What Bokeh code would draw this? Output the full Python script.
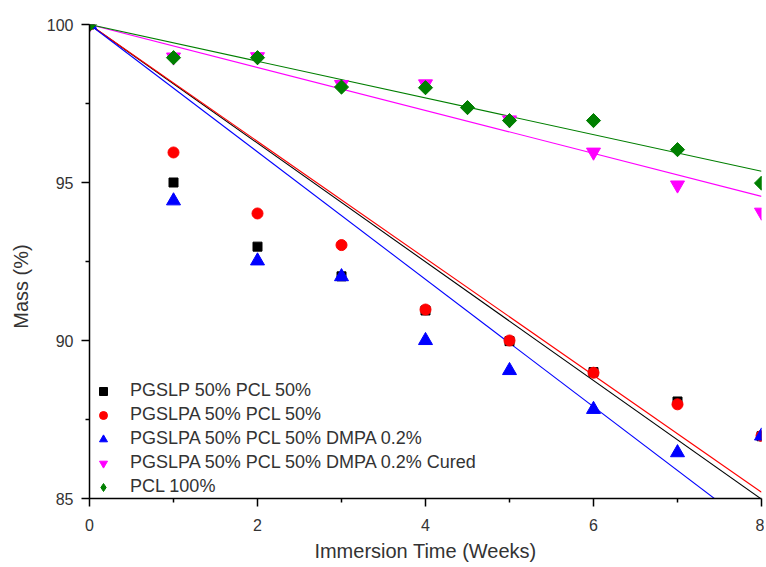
import numpy as np
from bokeh.plotting import figure
from bokeh.models import FixedTicker, Legend, LegendItem
from bokeh.embed import file_html
from bokeh.resources import INLINE

# ---- data ----
weeks = [0, 1, 2, 3, 4, 5, 6, 7, 8]
pgslp = [100, 95.0, 92.97, 92.03, 90.95, 89.98, 89.0, 88.07, 86.97]
pgslpa = [100, 95.95, 94.02, 93.02, 90.98, 90.0, 88.98, 87.98, 86.98]
pgslpa_dmpa = [100, 94.42, 92.52, 92.02, 90.0, 89.05, 87.82, 86.45, 86.98]
pgslpa_dmpa_cured = [100, 98.97, 98.98, 98.1, 98.12, 96.98, 95.96, 94.92, 94.06]
pcl_weeks = [0, 1, 2, 3, 4, 4.5, 5, 6, 7, 8]
pcl = [100, 98.95, 98.95, 98.02, 98.0, 97.37, 96.96, 96.96, 96.04, 94.98]

labels = ["PGSLP 50% PCL 50%", "PGSLPA 50% PCL 50%", "PGSLPA 50% PCL 50% DMPA 0.2%",
          "PGSLPA 50% PCL 50% DMPA 0.2% Cured", "PCL 100%"]
colors = ["#000000", "#FF0000", "#0000FF", "#FF00FF", "#007F00"]

x_ticks = [0, 2, 4, 6, 8]
x_minor = [1, 3, 5, 7]
y_ticks = [85, 90, 95, 100]
y_minor = [87.5, 92.5, 97.5]

FONT = "Liberation Sans"
TXT = "#333333"

p = figure(frame_width=672, frame_height=474, x_range=(0, 8), y_range=(85, 100),
           output_backend="svg", toolbar_location=None,
           min_border_left=89, min_border_right=3, min_border_top=24, min_border_bottom=68)
p.outline_line_color = None
p.grid.visible = False
p.background_fill_color = "white"
p.border_fill_color = "white"

series = [
    (weeks, pgslp, "square", 9, 0),
    (weeks, pgslpa, "circle", 11, 0),
    (weeks, pgslpa_dmpa, "triangle", 14, 0),
    (weeks, pgslpa_dmpa_cured, "inverted_triangle", 14, 0),
    (pcl_weeks, pcl, "square", 10, np.pi / 4),
]

# fitted lines (intercept fixed at 100)
for (xs, ys, m, s, a), c in zip(series, colors):
    x = np.array(xs, dtype=float)
    y = np.array(ys, dtype=float)
    slope = np.sum(x * (y - 100)) / np.sum(x * x)
    p.line([0, 8], [100, 100 + 8 * slope], line_color=c, line_width=1.1)

items = []
for i, ((xs, ys, m, s, a), c, lab) in enumerate(zip(series, colors, labels)):
    if m == "square" and a != 0:
        # narrow diamond (used for the legend key), covered by the rotated square
        key = p.scatter(xs, ys, marker="diamond", size=13, fill_color=c, line_color=c)
        p.scatter(xs, ys, marker=m, size=s, angle=a, fill_color=c, line_color=c)
    else:
        key = p.scatter(xs, ys, marker=m, size=s, angle=a, fill_color=c, line_color=c)
    items.append(LegendItem(label=lab, renderers=[key]))

legend = Legend(items=items, location=(4, 1), background_fill_alpha=0,
                border_line_color=None, padding=0, margin=0, spacing=3,
                glyph_width=20, glyph_height=20, label_height=20, label_standoff=17,
                label_text_font=FONT, label_text_font_size="18px", label_text_color=TXT)
p.add_layout(legend)

for ax in (p.xaxis[0], p.yaxis[0]):
    ax.axis_line_color = "black"
    ax.axis_line_width = 1.5
    ax.major_tick_line_color = "black"
    ax.minor_tick_line_color = "black"
    ax.major_tick_line_width = 1.5
    ax.minor_tick_line_width = 1.5
    ax.major_tick_in = 0
    ax.major_tick_out = 8
    ax.minor_tick_in = 0
    ax.minor_tick_out = 4
    ax.major_label_text_font = FONT
    ax.major_label_text_font_size = "16px"
    ax.major_label_text_color = TXT
    ax.axis_label_text_font = FONT
    ax.axis_label_text_font_size = "20px"
    ax.axis_label_text_font_style = "normal"
    ax.axis_label_text_color = TXT

p.xaxis.ticker = FixedTicker(ticks=x_ticks, minor_ticks=x_minor)
p.yaxis.ticker = FixedTicker(ticks=y_ticks, minor_ticks=y_minor)
p.xaxis.axis_label = "Immersion Time (Weeks)"
p.xaxis.major_label_standoff = 12
p.xaxis.axis_label_standoff = 6
# trailing no-break spaces move the visible title below the frame centre, as in the reference
p.yaxis.axis_label = "Mass (%)" + "\u00a0" * 9
p.yaxis.major_label_standoff = 8
p.yaxis.axis_label_standoff = 12

open("out.html", "w").write(file_html(p, INLINE))
